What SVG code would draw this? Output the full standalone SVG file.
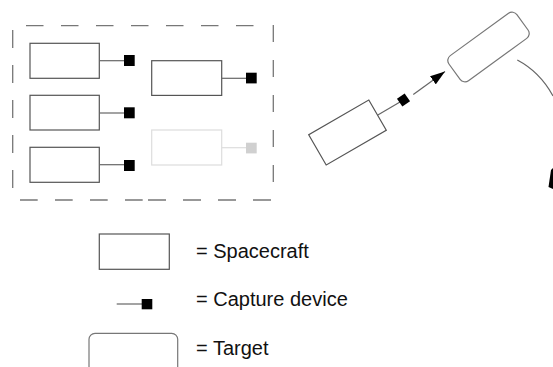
<svg xmlns="http://www.w3.org/2000/svg" width="553" height="367" viewBox="0 0 553 367">
<style>
.sc{fill:#fff;stroke:#555;stroke-width:1.2}
.faded{fill:#fff;stroke:#ddd;stroke-width:1.2}
.ln{stroke:#666;stroke-width:1.2;fill:none}
.dev{fill:#000}
.dash{stroke:#777;stroke-width:1.3;fill:none}
.tg{fill:#fff;stroke:#777;stroke-width:1.2}
.lbl{font-family:"Liberation Sans",Arial,sans-serif;font-size:20px;fill:#111}
</style>
<defs>
<marker id="arr" markerWidth="15" markerHeight="10" refX="15" refY="5" orient="auto" markerUnits="userSpaceOnUse">
<path d="M0,0 L15,5 L0,10 z" fill="#000"/>
</marker>
</defs>
<g id="formation">
<line class="dash" x1="26" y1="25.7" x2="256" y2="25.7" stroke-dasharray="17.5 17.5"/>
<line class="dash" x1="12.7" y1="30" x2="12.7" y2="188" stroke-dasharray="18 17"/>
<line class="dash" x1="273.3" y1="25" x2="273.3" y2="184" stroke-dasharray="17 18"/>
<line class="dash" x1="20" y1="200" x2="143" y2="200" stroke-dasharray="17.7 17.3"/>
<line class="dash" x1="148" y1="200" x2="272" y2="200" stroke-dasharray="18 17"/>
</g>
<g id="sc1"><rect class="sc" x="30" y="43.3" width="69.3" height="35"/></g>
<g id="sc2"><rect class="sc" x="30" y="95.3" width="69.3" height="34.7"/></g>
<g id="sc3"><rect class="sc" x="30" y="147.3" width="69.3" height="35"/></g>
<g id="sc4"><rect class="sc" x="151.7" y="60.7" width="70" height="34.7"/></g>
<g id="sc5"><rect class="faded" x="151.7" y="130" width="70" height="35"/></g>
<g id="sc6"><rect class="sc" x="-34.7" y="-17.5" width="69.4" height="35" transform="translate(347.5,132.5) rotate(-30)"/></g>
<g id="target"><rect class="tg" x="-42" y="-15.5" width="84" height="31" rx="6" transform="translate(488.5,47) rotate(-36)"/></g>
<g id="connectors">
<line class="ln" x1="99.3" y1="60.7" x2="124" y2="60.7"/>
<rect class="dev" x="124" y="55" width="10.7" height="11"/>
<line class="ln" x1="99.3" y1="113" x2="124" y2="113"/>
<rect class="dev" x="124" y="107.3" width="10.7" height="11"/>
<line class="ln" x1="99.3" y1="164.7" x2="124" y2="164.7"/>
<rect class="dev" x="124" y="160" width="10.7" height="11"/>
<line class="ln" x1="221.7" y1="78.3" x2="246" y2="78.3"/>
<rect class="dev" x="246" y="72.7" width="10.7" height="10.7"/>
<line x1="221.7" y1="147.7" x2="246" y2="147.7" stroke="#ddd" stroke-width="1.2"/>
<rect x="246" y="142.7" width="10.7" height="10.7" fill="#d0d0d0"/>
<line class="ln" x1="377.4" y1="115.2" x2="400" y2="102"/>
<rect class="dev" x="-4.7" y="-4.7" width="9.4" height="9.4" transform="translate(403.5,100) rotate(-35)"/>
<line class="ln" x1="413.3" y1="94.5" x2="445" y2="71.5" marker-end="url(#arr)"/>
<path class="ln" d="M517.3,60 Q540,72 553,96"/>
<polygon points="551,170 553,168 553,189 548.5,187" fill="#000"/>
</g>
<g id="legend-spacecraft">
<rect class="sc" x="99.3" y="234" width="70" height="35.3"/>
<text class="lbl" x="196" y="258">= Spacecraft</text>
</g>
<g id="legend-capture">
<line class="ln" x1="116.7" y1="304" x2="142" y2="304"/>
<rect class="dev" x="141.7" y="299" width="10.6" height="10.3"/>
<text class="lbl" x="196" y="306">= Capture device</text>
</g>
<g id="legend-target">
<rect class="tg" x="89" y="333.3" width="88.7" height="45" rx="6"/>
<text class="lbl" x="196" y="355">= Target</text>
</g>
</svg>
